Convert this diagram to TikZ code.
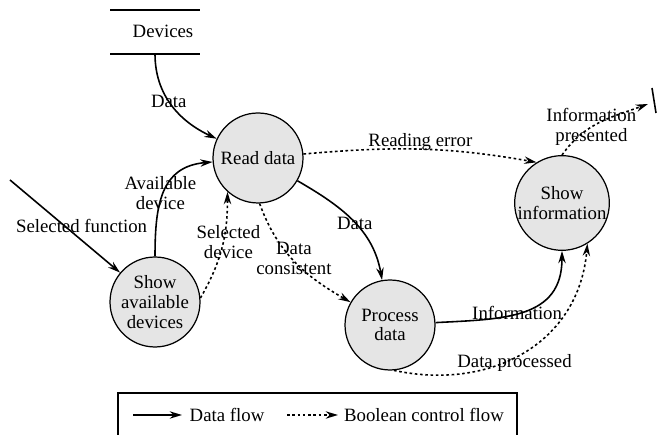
\documentclass[tikz,border=0pt]{standalone}
\usepackage{fontspec}
\setmainfont{Liberation Serif}
\usetikzlibrary{arrows.meta}

\begin{document}
\begin{tikzpicture}[x = 0.02cm, y = 0.02cm, line width = 0.9pt,
                    every node/.style = {font = \fontsize{10.7}{11.3}\selectfont},
                    proc/.style = {circle, draw, line width = 0.7pt, fill = gray!20, minimum size = 1.8cm, inner sep = 0pt, align = center},
                    flow/.style = {-{Stealth[length = 7pt, width = 4.2pt]}},
                    ctrl/.style = {flow, dash pattern = on 1.5pt off 1.5pt},
                    lbl/.style = {align = center, inner sep = 1pt}]
  \useasboundingbox (0,0) rectangle (665,435);

  \node [proc] (readdata) at (258,277) {Read data};
  \node [proc] (showdev) at (155,133) {Show\\available\\devices};
  \node [proc] (procdata) at (390,110) {Process\\data};
  \node [proc] (showinfo) at (562,232) {Show\\information};

  \draw (110,425) -- (200,425);
  \draw (110,381) -- (200,381);
  \node (devices) at (163,404) {Devices};
  \coordinate (devout) at (155,381);
  \coordinate (selin) at (10,255);
  \coordinate (infoout) at (648,331);
  \draw (652,347) -- (656,322);

  \draw [flow] (devout) to [out = -90, in = 155] node [lbl, pos = 0.45] {Data} (readdata);
  \draw [flow] (selin) -- node [lbl, pos = 0.65, above = 3pt] {Selected function} (showdev);
  \draw [flow] (showdev) to [out = 90, in = 185, looseness = 1.2] node [lbl, pos = 0.4, yshift = 5pt] {Available\\device} (readdata);
  \draw [ctrl] (showdev.5) to [out = 60, in = -90] node [lbl, pos = 0.55, xshift = 3pt] {Selected\\device} (readdata.228);
  \draw [ctrl] (readdata.-88) to [out = -70, in = 150] node [lbl, pos = 0.45, xshift = 2pt, yshift = -1pt] {Data\\consistent} (procdata);
  \draw [flow] (readdata) to [out = -30, in = 100] node [lbl, pos = 0.52] {Data} (procdata);
  \draw [ctrl] (readdata) to [out = 5, in = 170] node [lbl, pos = 0.5, yshift = 4pt] {Reading error} (showinfo.122);
  \draw [ctrl] (showinfo.90) to [out = 55, in = 200] node [lbl, pos = 0.4] {Information\\presented} (infoout);
  \draw [flow] (procdata) to [out = 3, in = -90, looseness = 1.2] node [lbl, pos = 0.45] {Information} (showinfo);
  \draw [ctrl] (procdata.-85) to [out = -12, in = -95, looseness = 1.1] node [lbl, pos = 0.38, xshift = 10pt, yshift = 1.5pt] {Data processed} (showinfo.-58);

  \draw (118,0) -- (118,42) -- (517,42) -- (517,0);
  \coordinate (lgA) at (133,20);
  \coordinate (lgB) at (182,20);
  \coordinate (lgC) at (287,20);
  \coordinate (lgD) at (338,20);
  \node (lgdata) at (227,20) {Data flow};
  \node (lgctrl) at (424,20) {Boolean control flow};
  \draw [flow] (lgA) -- (lgB);
  \draw [ctrl] (lgC) -- (lgD);
\end{tikzpicture}
\end{document}
